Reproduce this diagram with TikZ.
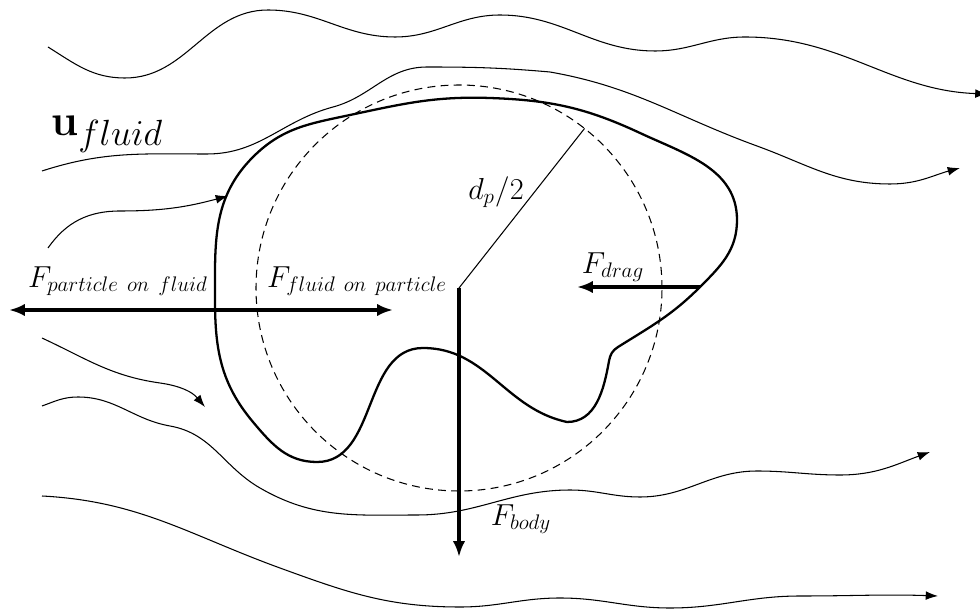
\documentclass[tikz,border=0pt]{standalone}
\usetikzlibrary{arrows.meta}
\begin{document}
\begin{tikzpicture}[
  font=\LARGE,
  >={Latex[length=9pt,width=7pt]},
  stream/.style={line width=0.6pt,-{Latex[length=7pt,width=5pt]}},
  wall/.style={line width=1.3pt},
  sphere/.style={line width=0.6pt,dash pattern=on 4.5pt off 3pt},
  force/.style={->,line width=1.8pt},
]
\useasboundingbox (0,0) rectangle (19.6,12.18);

% ---- streamlines ----
\draw[stream] (0.96,11.24) to[out=-32,in=180] (2.50,10.62) to[out=0,in=180] (5.36,11.98)
  to[out=0,in=180] (7.90,11.44) to[out=0,in=180] (10.0,11.88) to[out=0,in=180] (13.10,11.16)
  to[out=0,in=180] (14.90,11.44) to[out=0,in=178] (19.75,10.30);
\draw[stream] (0.84,8.76) to[out=18,in=180] (4.14,9.10) to[out=0,in=195] (6.66,10.04)
  to[out=15,in=180] (8.54,10.84) to[out=0,in=175] (11.0,10.74) to[out=-10,in=160] (15.14,9.26)
  to[out=-20,in=180] (17.8,8.50) to[out=0,in=195] (19.2,8.82);
\draw[stream] (0.96,7.22) to[out=55,in=180] (2.4,7.96) to[out=0,in=195] (4.56,8.26);
\draw[stream] (0.84,5.42) to[out=-25,in=172] (3.2,4.52) to[out=-8,in=130] (4.10,4.04);
\draw[stream] (0.84,4.06) to[out=20,in=180] (1.56,4.24) to[out=0,in=170] (3.4,3.66)
  to[out=-10,in=150] (5.2,2.42) to[out=-30,in=180] (8.34,1.88) to[out=0,in=180] (11.4,2.38)
  to[out=0,in=180] (12.8,2.24) to[out=0,in=180] (15.14,2.76) to[out=0,in=180] (16.8,2.68)
  to[out=0,in=200] (18.6,3.14);
\draw[stream] (0.84,2.26) to[out=-3,in=160] (5.6,0.82) to[out=-20,in=180] (9.2,0.04)
  to[out=0,in=180] (11.2,0.22) to[out=0,in=180] (13.4,0.02) to[out=0,in=180] (16.0,0.26)
  to[out=0,in=178] (18.76,0.26);
\node (u) at (2.14,9.50) {\Huge $\mathbf{u}_{fluid}$};

% ---- particle ----
\coordinate (c) at (9.18,6.42);
\draw[sphere] (c) circle (4.06);
\draw[wall] (9.80,10.22) to[out=-2,in=155] (12.80,9.52) to[out=-25,in=90] (14.74,7.78)
  to[out=-90,in=45] (14.0,6.44) to[out=-135,in=32] (12.36,5.24)
  to[out=-148,in=80] (12.18,4.96) to[out=-100,in=0] (11.34,3.74)
  to[out=168,in=0] (8.46,5.22)
  to[out=180,in=0] (6.34,2.94) to[out=180,in=-50] (5.06,3.74) to[out=130,in=-90] (4.30,6.18)
  to[out=90,in=-135] (5.06,9.04) to[out=45,in=-168] (7.00,9.88) to[out=12,in=178] cycle;
\draw[line width=0.6pt] (c) -- ++(51.8:4.06) coordinate (rim);
\node (dp) at (9.92,8.34) {$d_p/2$};

% ---- forces ----
\coordinate (pf) at (0.18,5.98);
\coordinate (fp) at (7.86,5.98);
\coordinate (dragS) at (14.00,6.44);
\coordinate (dragE) at (11.54,6.44);
\coordinate (bodyE) at (9.18,1.04);
\draw[force,<->] (pf) -- (fp);
\draw[force] (dragS) -- (dragE);
\draw[force] (c) -- (bodyE);
\node (Fpf) at (2.36,6.56) {$F_{particle\ on\ fluid}$};
\node (Ffp) at (7.14,6.56) {$F_{fluid\ on\ particle}$};
\node (Fdrag) at (12.26,6.84) {$F_{drag}$};
\node (Fbody) at (10.42,1.80) {$F_{body}$};
\end{tikzpicture}
\end{document}
